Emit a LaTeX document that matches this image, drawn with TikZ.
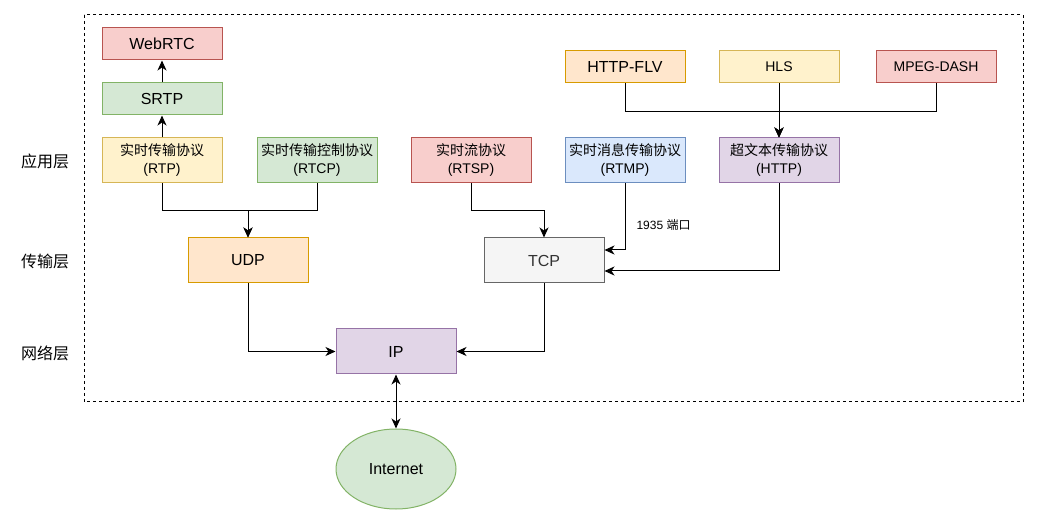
\documentclass[tikz,border=0pt]{standalone}
\usepackage{fontspec}
\setmainfont{Liberation Sans}
\newfontfamily\cjk{Noto Sans CJK SC}
\usetikzlibrary{arrows.meta,shapes.geometric}
\definecolor{io_red}{HTML}{F8CECC}
\definecolor{io_redline}{HTML}{B85450}
\definecolor{io_green}{HTML}{D5E8D4}
\definecolor{io_greenline}{HTML}{82B366}
\definecolor{io_yellow}{HTML}{FFF2CC}
\definecolor{io_yellowline}{HTML}{D6B656}
\definecolor{io_orange}{HTML}{FFE6CC}
\definecolor{io_orangeline}{HTML}{D79B00}
\definecolor{io_blue}{HTML}{DAE8FC}
\definecolor{io_blueline}{HTML}{6C8EBF}
\definecolor{io_purple}{HTML}{E1D5E7}
\definecolor{io_purpleline}{HTML}{9673A6}
\definecolor{io_grey}{HTML}{F5F5F5}
\definecolor{io_greyline}{HTML}{666666}
\tikzstyle{box}=[rectangle,line width=1pt,minimum width=120pt,minimum height=32pt,
  inner sep=0pt,align=center,font=\fontsize{16}{19}\selectfont]
\tikzstyle{tall}=[minimum height=45pt,font=\fontsize{14}{18}\selectfont]
\tikzstyle{rb}=[box,fill=io_red,draw=io_redline]
\tikzstyle{gb}=[box,fill=io_green,draw=io_greenline]
\tikzstyle{yb}=[box,fill=io_yellow,draw=io_yellowline]
\tikzstyle{ob}=[box,fill=io_orange,draw=io_orangeline]
\tikzstyle{bb}=[box,fill=io_blue,draw=io_blueline]
\tikzstyle{pb}=[box,fill=io_purple,draw=io_purpleline]
\tikzstyle{wb}=[box,fill=io_grey,draw=io_greyline,text=black!80]
\tikzstyle{layer}=[font=\fontsize{16}{19}\selectfont\cjk]
\tikzstyle{arr}=[line width=1pt,-{Stealth[length=10pt,width=9pt,inset=3pt]}]
\tikzstyle{arr2}=[line width=1pt,{Stealth[length=10pt,width=9pt,inset=3pt]}-{Stealth[length=10pt,width=9pt,inset=3pt]}]

\begin{document}
\begin{tikzpicture}[x=1pt, y=-1pt]
            \useasboundingbox (0, 0) rectangle (1039, 526);
            \draw [line width=1pt, dash pattern=on 3pt off 3pt] (84, 15) rectangle (1023, 402);
            \node [style=rb] (0) at (162, 44) {WebRTC};
            \node [style=gb] (1) at (162, 99) {SRTP};
            \node [style=yb, style=tall] (2) at (162, 160.5) {{\cjk 实时传输协议}\\(RTP)};
            \node [style=gb, style=tall] (3) at (317, 160.5) {{\cjk 实时传输控制协议}\\(RTCP)};
            \node [style=rb, style=tall] (4) at (471, 160.5) {{\cjk 实时流协议}\\(RTSP)};
            \node [style=bb, style=tall] (5) at (625, 160.5) {{\cjk 实时消息传输协议}\\(RTMP)};
            \node [style=pb, style=tall] (6) at (779, 160.5) {{\cjk 超文本传输协议}\\(HTTP)};
            \node [style=ob] (7) at (625, 67) {HTTP-FLV};
            \node [style=yb, font=\fontsize{14}{17}\selectfont] (8) at (779, 67) {HLS};
            \node [style=rb, font=\fontsize{14}{17}\selectfont] (9) at (936, 67) {MPEG-DASH};
            \node [style=ob, style=tall, font=\fontsize{16}{19}\selectfont] (10) at (248, 260.5) {UDP};
            \node [style=wb, style=tall, font=\fontsize{16}{19}\selectfont] (11) at (544, 260.5) {TCP};
            \node [style=pb, style=tall, font=\fontsize{16}{19}\selectfont] (12) at (396, 351.5) {IP};
            \node [style=gb, ellipse, minimum width=120pt, minimum height=80pt] (13) at (396, 469) {Internet};
            \node [style=layer] (14) at (45, 161) {应用层};
            \node [style=layer] (15) at (45, 261) {传输层};
            \node [style=layer] (16) at (45, 353) {网络层};
            \node [font=\fontsize{12}{14}\selectfont, anchor=west] (17) at (633, 225) {1935 {\cjk 端口}};
            \draw [style=arr] (2) to (1);
            \draw [style=arr] (1) to (0);
            \draw [style=arr] (2.south) -- ++(0, 27) -| (10.north);
            \draw [style=arr] (3.south) -- ++(0, 27) -| (10.north);
            \draw [style=arr] (4.south) -- ++(0, 27) -| (11.north);
            \draw [style=arr] (5.south) |- ([yshift=10.5pt]11.east);
            \draw [style=arr] (6.south) |- ([yshift=-10.5pt]11.east);
            \draw [style=arr] (7.south) -- ++(0, 28) -| (6.north);
            \draw [style=arr] (8) to (6);
            \draw [style=arr] (9.south) -- ++(0, 28) -| (6.north);
            \draw [style=arr] (10.south) |- (12.west);
            \draw [style=arr] (11.south) |- (12.east);
            \draw [style=arr2] (12) to (13);
    \end{tikzpicture}
\end{document}
